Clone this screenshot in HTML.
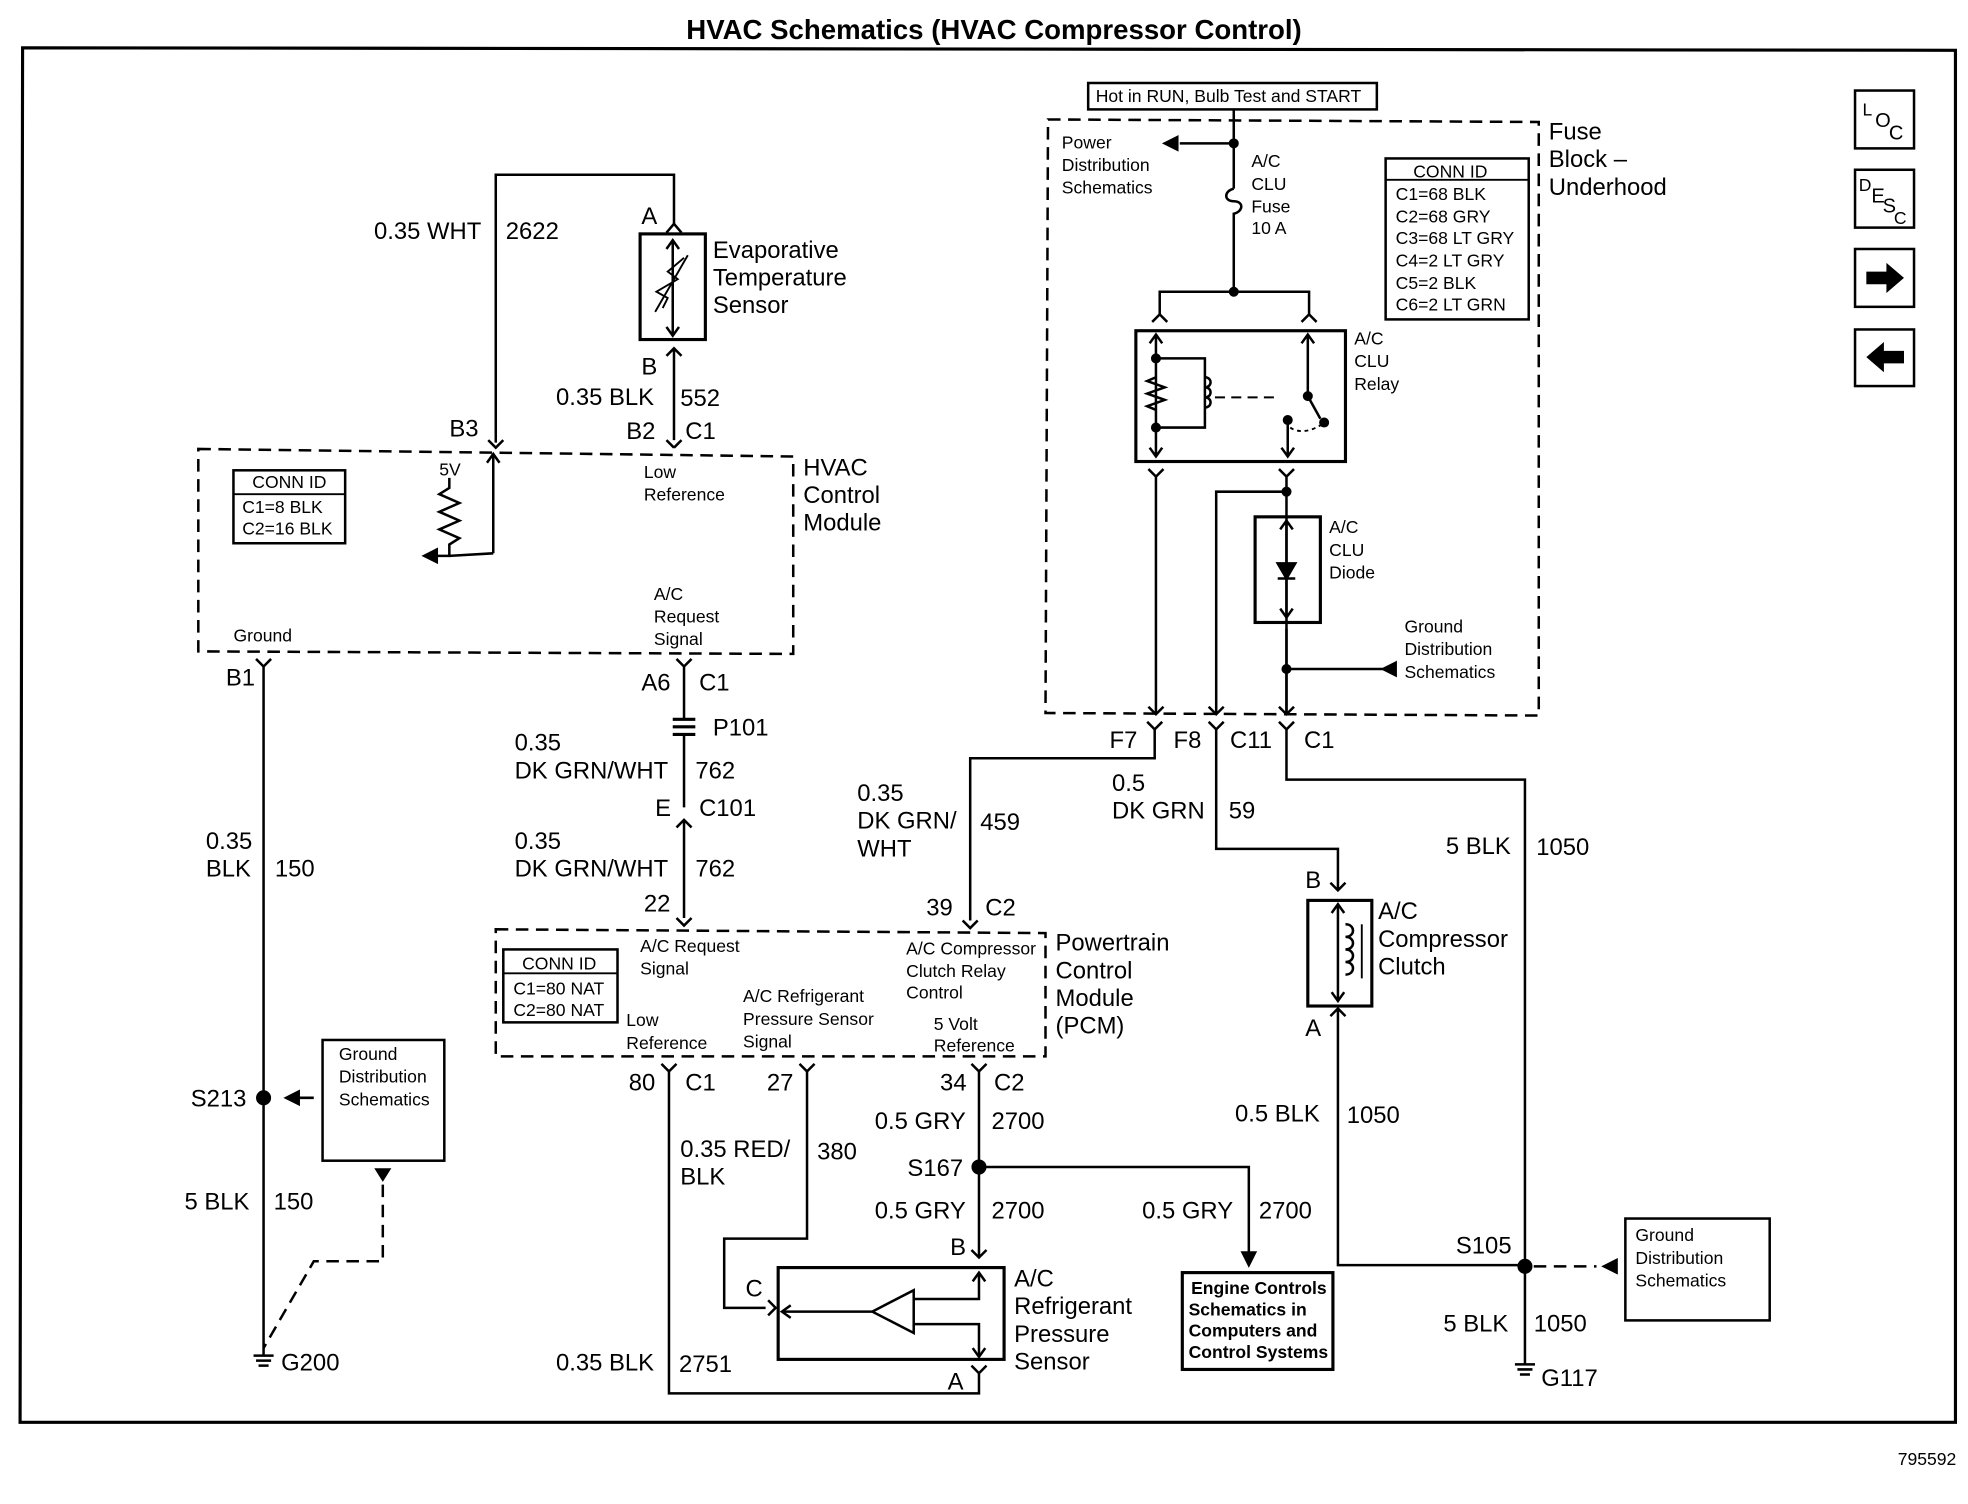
<!DOCTYPE html>
<html><head><meta charset="utf-8"><style>
html,body{margin:0;padding:0;background:#fff;}
svg{display:block;}
text{font-family:"Liberation Sans",Arial,sans-serif;fill:#000;}
.l{font-size:19px;}
.s{font-size:14px;}
.m{font-size:16px;}
</style></head><body>
<svg width="1968" height="1504" viewBox="0 0 1568 1196" preserveAspectRatio="none" xmlns="http://www.w3.org/2000/svg">
<g fill="none" stroke="#000" stroke-width="2">
<path d="M18 38 L1558 40 L1558 1131 L16 1131 Z" stroke-width="2.5"/>
<rect x="1478" y="72" width="47" height="46"/>
<rect x="1478" y="135" width="47" height="46"/>
<rect x="1478" y="198" width="47" height="46"/>
<rect x="1478" y="262" width="47" height="45"/>
<path d="M158 357 L632 363 L632 520 L158 518 Z" stroke-dasharray="10,6"/>
<rect x="186" y="374" width="89" height="58"/>
<line x1="186" y1="393" x2="275" y2="393" stroke-width="1.5"/>
<path d="M395 352 L395 139 L537 139 L537 178"/>
<path d="M531 185 L537 178 L543 185"/>
<rect x="510" y="186" width="52" height="84" stroke-width="2.5"/>
<path d="M536 192 L536 266 M531 198 L536 191 L541 198 M531 260 L536 267 L541 260"/>
<path d="M528 245 L532 237 L523 232 L540 222 L532 216 L545 205" stroke-width="1.5"/>
<line x1="522" y1="248" x2="548" y2="203" stroke-width="1.5"/>
<path d="M531 283 L537 277 L543 283 M537 277 L537 350"/>
<path d="M531 350 L537 356 M543 350 L537 356" />
<path d="M389 350 L395 356 L401 350"/>
<path d="M393 362 L393 440 M388 368 L393 361 L398 368"/>
<path d="M358 380 L358 388 L350 393 L366 400 L350 407 L366 414 L350 421 L366 428 L358 433 L358 442 L342 442"/>
<path d="M348 437 L338 442 L348 447 Z" fill="#000"/>
<line x1="358" y1="442" x2="393" y2="440"/>
<path d="M204 524 L210 530 L216 524 M210 530 L210 1078"/>
<circle cx="210" cy="873" r="5" fill="#000"/>
<path d="M228 873 L250 873"/>
<path d="M238 868 L228 873 L238 878 Z" fill="#000"/>
<path d="M202 1078 L218 1078 M204 1082 L216 1082 M206 1086 L214 1086"/>
<rect x="257" y="827" width="97" height="96"/>
<path d="M300 930 L305 938 L310 930 Z" fill="#000"/>
<path d="M305 942 L305 1003 L250 1003 L210 1072" stroke-dasharray="10,6"/>
<path d="M539 524 L545 530 L551 524 M545 530 L545 572 M545 584 L545 642 M539 658 L545 652 L551 658 M545 652 L545 730 M539 730 L545 736 L551 730"/>
<path d="M536 572 L554 572 M536 578 L554 578 M536 584 L554 584" stroke-width="2.5"/>
<path d="M395 739 L833 742 L833 840 L395 840 Z" stroke-dasharray="10,6"/>
<rect x="401" y="755" width="91" height="58"/>
<line x1="401" y1="774" x2="492" y2="774" stroke-width="1.5"/>
<path d="M767 732 L773 738 L779 732 M773 732 L773 603 L920 603 L920 580"/>
<path d="M835 95 L1226 97 L1226 569 L833 567 Z" stroke-dasharray="10,6"/>
<rect x="867" y="66" width="230" height="21"/>
<rect x="1104" y="126" width="114" height="128"/>
<line x1="1104" y1="143" x2="1218" y2="143" stroke-width="1.5"/>
<path d="M983 87 L983 150 M983 114 L940 114"/>
<path d="M938 109 L928 114 L938 119 Z" fill="#000"/>
<circle cx="983" cy="114" r="3" fill="#000"/>
<path d="M983 150 C975 152 975 160 983 160 C991 160 991 168 983 170 L983 232"/>
<path d="M924 250 L924 232 L1043 232 L1043 250"/>
<circle cx="983" cy="232" r="3" fill="#000"/>
<path d="M918 256 L924 250 L930 256 M1037 256 L1043 250 L1049 256"/>
<rect x="905" y="263" width="167" height="104" stroke-width="2.5"/>
<path d="M921 267 L921 362 M916 273 L921 266 L926 273 M916 356 L921 363 L926 356"/>
<path d="M921 285 L960 285 L960 340 L921 340"/>
<circle cx="921" cy="285" r="3" fill="#000"/><circle cx="921" cy="340" r="3" fill="#000"/>
<path d="M921 300 L914 303 L928 308 L914 313 L928 318 L914 323 L921 326"/>
<path d="M960 300 C966 300 966 308 960 308 C966 308 966 316 960 316 C966 316 966 324 960 324"/>
<path d="M968 316 L1020 316" stroke-dasharray="8,5" stroke-width="1.5"/>
<path d="M1042 267 L1042 315 L1052 333 M1037 273 L1042 266 L1047 273"/>
<circle cx="1042" cy="315" r="3" fill="#000"/><circle cx="1055" cy="336" r="3" fill="#000"/>
<path d="M1026 334 L1026 362 M1021 356 L1026 363 L1031 356"/>
<circle cx="1026" cy="334" r="3" fill="#000"/>
<path d="M1028 340 C1035 345 1045 343 1054 337" stroke-dasharray="3,3" stroke-width="1.5"/>
<path d="M915 373 L921 379 L927 373 M921 379 L921 567"/>
<path d="M1019 373 L1025 379 L1031 373 M1025 379 L1025 567"/>
<path d="M969 567 L969 391 L1025 391"/>
<circle cx="1025" cy="391" r="3" fill="#000"/>
<rect x="1000" y="411" width="52" height="84" stroke-width="2.5"/>
<path d="M1025 415 L1025 490 M1020 421 L1025 414 L1030 421 M1020 484 L1025 491 L1030 484"/>
<path d="M1018 460 L1032 460 M1018 448 L1032 448 L1025 460 Z" fill="#000"/>
<path d="M1025 500 L1025 567 M1025 532 L1112 532"/>
<circle cx="1025" cy="532" r="3" fill="#000"/>
<path d="M1112 527 L1102 532 L1112 537 Z" fill="#000"/>
<path d="M915 562 L921 568 L927 562 M963 562 L969 568 L975 562 M1019 562 L1025 568 L1031 562"/>
<path d="M914 574 L920 580 L926 574 M963 574 L969 580 L975 574 M1019 574 L1025 580 L1031 574"/>
<path d="M969 580 L969 675 L1066 675 L1066 708 M1060 702 L1066 708 L1072 702"/>
<rect x="1042" y="716" width="51" height="84" stroke-width="2.5"/>
<path d="M1066 720 L1066 795 M1061 726 L1066 719 L1071 726 M1061 789 L1066 796 L1071 789"/>
<path d="M1072 735 C1080 735 1080 745 1072 745 C1080 745 1080 755 1072 755 C1080 755 1080 765 1072 765 C1080 765 1080 775 1072 775"/>
<line x1="1085" y1="735" x2="1085" y2="778" stroke-width="1.5"/>
<path d="M1060 808 L1066 802 L1072 808 M1066 802 L1066 1006 L1215 1006"/>
<path d="M1025 580 L1025 620 L1215 620 L1215 1085"/>
<circle cx="1215" cy="1007" r="5" fill="#000"/>
<path d="M1207 1085 L1223 1085 M1209 1089 L1221 1089 M1211 1093 L1219 1093"/>
<path d="M1222 1007 L1272 1007" stroke-dasharray="10,6"/>
<path d="M1288 1002 L1278 1007 L1288 1012 Z" fill="#000"/>
<rect x="1295" y="969" width="115" height="81"/>
<path d="M527 846 L533 852 L539 846 M533 852 L533 1108 L780 1108 L780 1092 M774 1086 L780 1092 M786 1086 L780 1092"/>
<path d="M637 846 L643 852 L649 846 M643 852 L643 985 L577 985 L577 1040 L610 1040"/>
<path d="M612 1034 L618 1040 L612 1046"/>
<path d="M774 846 L780 852 L786 846 M780 852 L780 1000 M774 994 L780 1000 L786 994"/>
<circle cx="780" cy="928" r="5" fill="#000"/>
<path d="M780 928 L995 928 L995 998"/>
<path d="M990 996 L995 1006 L1000 996 Z" fill="#000"/>
<rect x="942" y="1012" width="120" height="77" stroke-width="2.5"/>
<rect x="620" y="1008" width="180" height="73" stroke-width="2.5"/>
<path d="M624 1043 L695 1043 M695 1043 L728 1026 L728 1060 Z M728 1033 L780 1033 L780 1013 M728 1053 L780 1053 L780 1078"/>
<path d="M775 1019 L780 1012 L785 1019 M775 1072 L780 1079 L785 1072 M630 1038 L623 1043 L630 1048"/>
</g>
<path d="M1487 216 L1503 216 L1503 209 L1517 221 L1503 233 L1503 226 L1487 226 Z" fill="#000"/>
<path d="M1517 279 L1501 279 L1501 272 L1487 284 L1501 296 L1501 289 L1517 289 Z" fill="#000"/>
<text x="1484" y="92" class="s">L</text><text x="1494" y="101" class="m">O</text><text x="1505" y="111" class="m">C</text>
<text x="1481" y="152" class="s">D</text><text x="1491" y="161" class="m">E</text><text x="1500" y="169" class="m">S</text><text x="1509" y="178" class="s">C</text>
<text x="792" y="31" text-anchor="middle" style="font-size:22px;font-weight:bold">HVAC Schematics (HVAC Compressor Control)</text>
<text x="1512" y="1165" class="s">795592</text>
<text x="298" y="190" class="l">0.35 WHT</text><text x="403" y="190" class="l">2622</text>
<text x="511" y="178" class="l">A</text>
<text x="568" y="205" class="l">Evaporative</text><text x="568" y="227" class="l">Temperature</text><text x="568" y="249" class="l">Sensor</text>
<text x="511" y="298" class="l">B</text>
<text x="443" y="322" class="l">0.35 BLK</text><text x="542" y="323" class="l">552</text>
<text x="358" y="347" class="l">B3</text><text x="499" y="349" class="l">B2</text><text x="546" y="349" class="l">C1</text>
<text x="640" y="378" class="l">HVAC</text><text x="640" y="400" class="l">Control</text><text x="640" y="422" class="l">Module</text>
<text x="201" y="388" class="s">CONN ID</text><text x="193" y="408" class="s">C1=8 BLK</text><text x="193" y="425" class="s">C2=16 BLK</text>
<text x="350" y="378" class="s">5V</text>
<text x="513" y="380" class="s">Low</text><text x="513" y="398" class="s">Reference</text>
<text x="521" y="477" class="s">A/C</text><text x="521" y="495" class="s">Request</text><text x="521" y="513" class="s">Signal</text>
<text x="186" y="510" class="s">Ground</text>
<text x="180" y="545" class="l">B1</text>
<text x="511" y="549" class="l">A6</text><text x="557" y="549" class="l">C1</text>
<text x="568" y="585" class="l">P101</text>
<text x="410" y="597" class="l">0.35</text><text x="410" y="619" class="l">DK GRN/WHT</text><text x="554" y="619" class="l">762</text>
<text x="522" y="649" class="l">E</text><text x="557" y="649" class="l">C101</text>
<text x="410" y="675" class="l">0.35</text><text x="410" y="697" class="l">DK GRN/WHT</text><text x="554" y="697" class="l">762</text>
<text x="513" y="725" class="l">22</text>
<text x="164" y="675" class="l">0.35</text><text x="164" y="697" class="l">BLK</text><text x="219" y="697" class="l">150</text>
<text x="683" y="637" class="l">0.35</text><text x="683" y="659" class="l">DK GRN/</text><text x="683" y="681" class="l">WHT</text><text x="781" y="660" class="l">459</text>
<text x="738" y="728" class="l">39</text><text x="785" y="728" class="l">C2</text>
<text x="841" y="756" class="l">Powertrain</text><text x="841" y="778" class="l">Control</text><text x="841" y="800" class="l">Module</text><text x="841" y="822" class="l">(PCM)</text>
<text x="416" y="771" class="s">CONN ID</text><text x="409" y="791" class="s">C1=80 NAT</text><text x="409" y="808" class="s">C2=80 NAT</text>
<text x="510" y="757" class="s">A/C Request</text><text x="510" y="775" class="s">Signal</text>
<text x="722" y="759" class="s">A/C Compressor</text><text x="722" y="777" class="s">Clutch Relay</text><text x="722" y="794" class="s">Control</text>
<text x="592" y="797" class="s">A/C Refrigerant</text><text x="592" y="815" class="s">Pressure Sensor</text><text x="592" y="833" class="s">Signal</text>
<text x="499" y="816" class="s">Low</text><text x="499" y="834" class="s">Reference</text>
<text x="744" y="819" class="s">5 Volt</text><text x="744" y="836" class="s">Reference</text>
<text x="501" y="867" class="l">80</text><text x="546" y="867" class="l">C1</text><text x="611" y="867" class="l">27</text>
<text x="749" y="867" class="l">34</text><text x="792" y="867" class="l">C2</text>
<text x="152" y="880" class="l">S213</text>
<text x="270" y="843" class="s">Ground</text><text x="270" y="861" class="s">Distribution</text><text x="270" y="879" class="s">Schematics</text>
<text x="147" y="962" class="l">5 BLK</text><text x="218" y="962" class="l">150</text>
<text x="224" y="1090" class="l">G200</text>
<text x="542" y="920" class="l">0.35 RED/</text><text x="542" y="942" class="l">BLK</text><text x="651" y="922" class="l">380</text>
<text x="697" y="898" class="l">0.5 GRY</text><text x="790" y="898" class="l">2700</text>
<text x="723" y="935" class="l">S167</text>
<text x="697" y="969" class="l">0.5 GRY</text><text x="790" y="969" class="l">2700</text>
<text x="910" y="969" class="l">0.5 GRY</text><text x="1003" y="969" class="l">2700</text>
<text x="757" y="998" class="l">B</text><text x="594" y="1031" class="l">C</text>
<text x="808" y="1023" class="l">A/C</text><text x="808" y="1045" class="l">Refrigerant</text><text x="808" y="1067" class="l">Pressure</text><text x="808" y="1089" class="l">Sensor</text>
<text x="755" y="1105" class="l">A</text>
<text x="443" y="1090" class="l">0.35 BLK</text><text x="541" y="1091" class="l">2751</text>
<text x="949" y="1029" class="s" style="font-weight:bold">Engine Controls</text><text x="947" y="1046" class="s" style="font-weight:bold">Schematics in</text><text x="947" y="1063" class="s" style="font-weight:bold">Computers and</text><text x="947" y="1080" class="s" style="font-weight:bold">Control Systems</text>
<text x="873" y="81" class="s">Hot in RUN, Bulb Test and START</text>
<text x="1234" y="111" class="l">Fuse</text><text x="1234" y="133" class="l">Block –</text><text x="1234" y="155" class="l">Underhood</text>
<text x="846" y="118" class="s">Power</text><text x="846" y="136" class="s">Distribution</text><text x="846" y="154" class="s">Schematics</text>
<text x="997" y="133" class="s">A/C</text><text x="997" y="151" class="s">CLU</text><text x="997" y="169" class="s">Fuse</text><text x="997" y="186" class="s">10 A</text>
<text x="1126" y="141" class="s">CONN ID</text><text x="1112" y="159" class="s">C1=68 BLK</text><text x="1112" y="177" class="s">C2=68 GRY</text><text x="1112" y="194" class="s">C3=68 LT GRY</text><text x="1112" y="212" class="s">C4=2 LT GRY</text><text x="1112" y="230" class="s">C5=2 BLK</text><text x="1112" y="247" class="s">C6=2 LT GRN</text>
<text x="1079" y="274" class="s">A/C</text><text x="1079" y="292" class="s">CLU</text><text x="1079" y="310" class="s">Relay</text>
<text x="1059" y="424" class="s">A/C</text><text x="1059" y="442" class="s">CLU</text><text x="1059" y="460" class="s">Diode</text>
<text x="1119" y="503" class="s">Ground</text><text x="1119" y="521" class="s">Distribution</text><text x="1119" y="539" class="s">Schematics</text>
<text x="884" y="595" class="l">F7</text><text x="935" y="595" class="l">F8</text><text x="980" y="595" class="l">C11</text><text x="1039" y="595" class="l">C1</text>
<text x="886" y="629" class="l">0.5</text><text x="886" y="651" class="l">DK GRN</text><text x="979" y="651" class="l">59</text>
<text x="1152" y="679" class="l">5 BLK</text><text x="1224" y="680" class="l">1050</text>
<text x="1040" y="706" class="l">B</text>
<text x="1098" y="731" class="l">A/C</text><text x="1098" y="753" class="l">Compressor</text><text x="1098" y="775" class="l">Clutch</text>
<text x="1040" y="824" class="l">A</text>
<text x="984" y="892" class="l">0.5 BLK</text><text x="1073" y="893" class="l">1050</text>
<text x="1160" y="997" class="l">S105</text>
<text x="1303" y="987" class="s">Ground</text><text x="1303" y="1005" class="s">Distribution</text><text x="1303" y="1023" class="s">Schematics</text>
<text x="1150" y="1059" class="l">5 BLK</text><text x="1222" y="1059" class="l">1050</text>
<text x="1228" y="1102" class="l">G117</text>
</svg>
</body></html>
